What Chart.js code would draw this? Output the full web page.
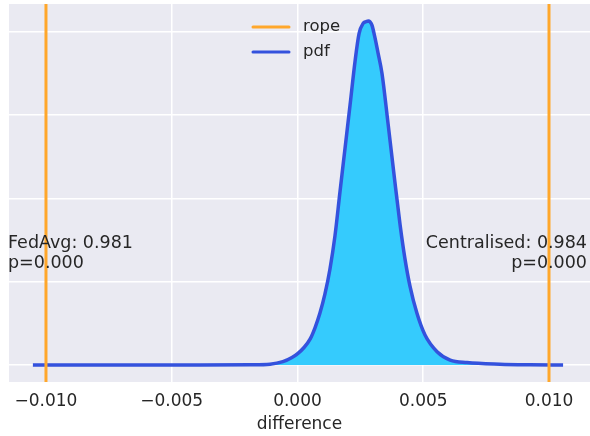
<!DOCTYPE html>
<html>
<head>
<meta charset="utf-8">
<script src="https://cdn.jsdelivr.net/npm/chart.js@4.4.1/dist/chart.umd.min.js"></script>
<style>
  html, body { margin: 0; padding: 0; background: #fff; }
  #wrap { width: 590px; height: 436px; }
</style>
</head>
<body>
<div id="wrap"><canvas id="chart" width="590" height="436"></canvas></div>
<script>
// Datos
const diffValues = [-0.01052, -0.00388, -0.00189, -0.00109, -0.00058, -0.00022, 0.00002, 0.00026,
  0.0005, 0.0007, 0.00089, 0.00109, 0.00129, 0.00149, 0.00169, 0.00189, 0.00209, 0.00229,
  0.00245, 0.00261, 0.00272, 0.00282, 0.00288, 0.00296, 0.00308, 0.0032, 0.00336, 0.0036,
  0.00384, 0.00408, 0.00427, 0.00447, 0.00475, 0.00507, 0.00555, 0.00607, 0.00674, 0.00805,
  0.00924, 0.01056];
const pdfValues = [0, 0, 0.3, 1, 4, 9, 14, 21,
  31, 45, 62, 85, 115, 155, 208, 260, 312, 365,
  398, 410, 412, 413, 412, 408, 393, 375, 350, 290,
  228, 168, 128, 95, 62, 36, 16, 6, 3, 1,
  0.3, 0];
const ropeBounds = [-0.01, 0.01];
const xTickValues = [-0.01, -0.005, 0, 0.005, 0.01];
const yTickValues = [0, 100, 200, 300, 400];
const leftNote = ['FedAvg: 0.981', 'p=0.000'];
const rightNote = ['Centralised: 0.984', 'p=0.000'];

const COLORS = {
  bg: '#eaeaf2',
  grid: '#ffffff',
  text: '#262626',
  rope: '#ffa72b',
  pdf: '#3452dd',
  fill: '#35cbfd',
};

const FONT = "'DejaVu Sans', sans-serif";
const Y_MIN = -20.4, Y_MAX = 433.3;

const pdfPoints = diffValues.map((x, i) => ({ x: x, y: pdfValues[i] }));

// Fondo gris del área de trazado
const bgPlugin = {
  id: 'bg',
  beforeDraw(chart) {
    const { ctx, chartArea: a } = chart;
    ctx.save();
    ctx.fillStyle = COLORS.bg;
    ctx.fillRect(a.left, a.top, a.right - a.left, a.bottom - a.top);
    ctx.restore();
  },
};

// Leyenda y anotaciones de texto
const notesPlugin = {
  id: 'notes',
  afterDraw(chart) {
    const ctx = chart.ctx;
    ctx.save();
    ctx.fillStyle = COLORS.text;
    ctx.textBaseline = 'middle';

    // leyenda
    ctx.font = '16.5px ' + FONT;
    const items = [['rope', COLORS.rope, 27], ['pdf', COLORS.pdf, 52]];
    items.forEach(([label, color, y]) => {
      ctx.strokeStyle = color;
      ctx.lineWidth = 3;
      ctx.lineCap = 'round';
      ctx.beginPath();
      ctx.moveTo(253, y);
      ctx.lineTo(289, y);
      ctx.stroke();
      ctx.fillText(label, 303, y);
    });

    ctx.font = '17.5px ' + FONT;
    ctx.textAlign = 'left';
    ctx.fillText(leftNote[0], 8, 243);
    ctx.fillText(leftNote[1], 8, 263);
    ctx.textAlign = 'right';
    ctx.fillText(rightNote[0], 587, 243);
    ctx.fillText(rightNote[1], 587, 263);
    ctx.restore();
  },
};

new Chart(document.getElementById('chart'), {
  type: 'line',
  data: {
    datasets: [
      {
        label: 'rope',
        data: [{ x: ropeBounds[0], y: Y_MIN }, { x: ropeBounds[0], y: Y_MAX }],
        borderColor: COLORS.rope,
        borderWidth: 3,
        pointRadius: 0,
        fill: false,
      },
      {
        label: 'rope',
        data: [{ x: ropeBounds[1], y: Y_MIN }, { x: ropeBounds[1], y: Y_MAX }],
        borderColor: COLORS.rope,
        borderWidth: 3,
        pointRadius: 0,
        fill: false,
      },
      {
        label: 'pdf',
        data: pdfPoints,
        borderColor: COLORS.pdf,
        backgroundColor: COLORS.fill,
        borderWidth: 3.5,
        pointRadius: 0,
        cubicInterpolationMode: 'monotone',
        fill: 'origin',
      },
    ],
  },
  options: {
    responsive: false,
    animation: false,
    layout: { padding: { left: 9, top: 4, right: 0, bottom: 0 } },
    plugins: {
      legend: { display: false },
      tooltip: { enabled: false },
    },
    scales: {
      x: {
        type: 'linear',
        min: -0.01147,
        max: 0.01163,
        afterBuildTicks: (axis) => { axis.ticks = xTickValues.map(v => ({ value: v })); },
        afterFit: (axis) => { axis.height = 54; },
        grid: { color: COLORS.grid, lineWidth: 1.5, drawTicks: false },
        border: { display: false },
        ticks: {
          color: COLORS.text,
          font: { family: FONT, size: 17 },
          padding: 9,
          maxRotation: 0,
          callback: (v) => v.toFixed(3).replace('-', '\u2212'),
        },
        title: {
          display: true,
          text: 'difference',
          color: COLORS.text,
          font: { family: FONT, size: 17 },
          padding: { top: 0, bottom: 1 },
        },
      },
      y: {
        type: 'linear',
        min: Y_MIN,
        max: Y_MAX,
        afterBuildTicks: (axis) => { axis.ticks = yTickValues.map(v => ({ value: v })); },
        afterFit: (axis) => { axis.width = 0; },
        grid: { color: COLORS.grid, lineWidth: 1.5, drawTicks: false },
        border: { display: false },
        ticks: { display: false },
      },
    },
  },
  plugins: [bgPlugin, notesPlugin],
});
</script>
</body>
</html>
